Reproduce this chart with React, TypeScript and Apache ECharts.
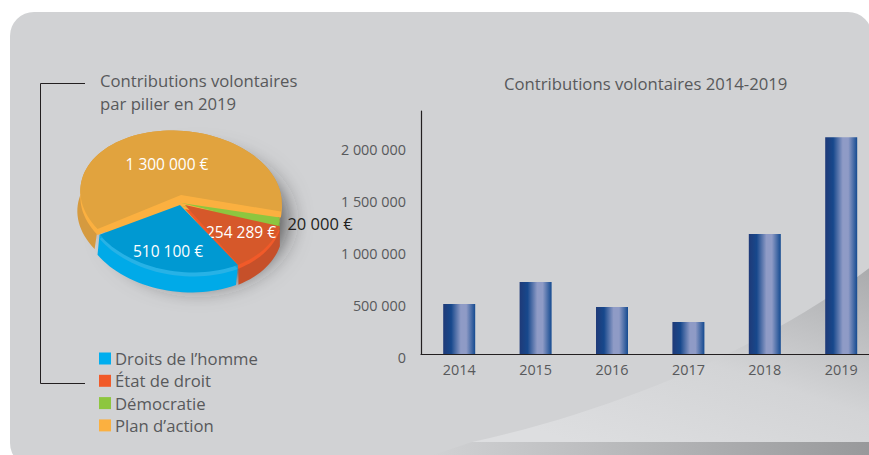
import React, { useEffect, useRef } from "react";
import * as echarts from "echarts";

const years = ["2014", "2015", "2016", "2017", "2018", "2019"];
const yearlyTotals = [481000, 692000, 452000, 308000, 1154000, 2084389];
const yTickLabels = ["0", "500 000", "1 000 000", "1 500 000", "2 000 000"];
const pillars = ["Plan d’action", "Démocratie", "État de droit", "Droits de l’homme"];
const pillarValues = [1300000, 20000, 254289, 510100];
const pillarLabels = ["1 300 000 €", "20 000 €", "254 289 €", "510 100 €"];
const legendOrder = ["Droits de l’homme", "État de droit", "Démocratie", "Plan d’action"];
const legendColors = ["#fbb040", "#8dc63f", "#f15a29", "#00aeef"];

const FONT = "'Open Sans', sans-serif";
const TXT = "#58595b";
const START = 142;
const ROT = (6 * Math.PI) / 180;
const TOTAL = pillarValues.reduce((a, b) => a + b, 0);

const looks = [
  { cx: 181, cy: 197, a: 101, b: 66, ax: 181, ay: 195, wall: "#d59a3f", wdx: -3, wdy: 20, rim: "#fbb040", rimH: 6, face: "#e1a33e", pad: [0, -3], lx: 167, ly: 164, lc: "#ffffff", fs: 15.5 },
  { cx: 183, cy: 202, a: 98, b: 67, ax: 181, ay: 203, wall: "#7fb238", wdx: 0, wdy: 10, rim: "#8dc63f", rimH: 3, face: "#8dc63f", pad: [2, 2.5], lx: 320, ly: 223, lc: "#231f20", fs: 16.5 },
  { cx: 189, cy: 205, a: 94, b: 67, ax: 185, ay: 205, wall: "#c6502a", wdx: 0, wdy: 20, rim: "#f15a29", rimH: 4, face: "#d6582a", pad: [0, 0], lx: 241, ly: 232, lc: "#ffffff", fs: 15.5 },
  { cx: 185, cy: 205, a: 100, b: 67, ax: 180, ay: 205, wall: "#00aae8", wdx: -2, wdy: 20, rim: "#27b2e6", rimH: 4, face: "#0099d2", pad: [0, 3], lx: 168, ly: 251, lc: "#ffffff", fs: 15.5 },
];

echarts.graphic.registerShape(
  "swoosh",
  echarts.graphic.extendPath("M472 442 C 620 410 770 345 872 266 L 872 442 Z", {})
);

function arc(l: any, from: number, to: number, dx = 0, dy = 0) {
  const n = Math.max(2, Math.ceil(Math.abs(to - from) / 3));
  const pts: number[][] = [];
  for (let i = 0; i <= n; i++) {
    const t = ((from + ((to - from) * i) / n) * Math.PI) / 180;
    const px = l.a * Math.cos(t);
    const py = l.b * Math.sin(t);
    pts.push([
      l.cx + px * Math.cos(ROT) - py * Math.sin(ROT) + dx,
      l.cy + px * Math.sin(ROT) + py * Math.cos(ROT) + dy,
    ]);
  }
  return pts;
}

function sliceRender(index: number) {
  return (_params: any, api: any) => {
    const l = looks[index];
    const before = pillarValues.slice(0, index).reduce((a, b) => a + b, 0);
    const from = START + (before / TOTAL) * 360 - l.pad[0];
    const to = START + ((before + api.value(0)) / TOTAL) * 360 + l.pad[1];
    const top = arc(l, from, to);
    const low = arc(l, from, to, l.wdx, l.wdy).reverse();
    const wedge = (dy: number) => [[l.ax, l.ay + dy], ...arc(l, from, to, 0, dy)];
    return {
      type: "group",
      children: [
        { type: "polygon", shape: { points: [...top, ...low] }, style: { fill: l.wall } },
        { type: "polygon", shape: { points: wedge(l.rimH) }, style: { fill: l.rim } },
        { type: "polygon", shape: { points: wedge(0) }, style: { fill: l.face } },
        {
          type: "text",
          z2: 50,
          style: {
            x: l.lx,
            y: l.ly,
            text: pillarLabels[index],
            fill: l.lc,
            fontSize: l.fs,
            fontFamily: FONT,
            textAlign: "center",
            textVerticalAlign: "middle",
          },
        },
      ],
    };
  };
}

export default function App() {
  const ref = useRef<HTMLDivElement>(null);
  useEffect(() => {
    document.body.style.margin = "0";
    const chart = echarts.init(ref.current!, undefined, { renderer: "svg" });
    chart.setOption({
      animation: false,
      backgroundColor: "#ffffff",
      title: [
        {
          text: "Contributions volontaires 2014-2019",
          left: 499,
          top: 70,
          textStyle: { color: TXT, fontSize: 16.7, fontWeight: "normal", fontFamily: FONT },
        },
        {
          text: "Contributions volontaires\npar pilier en 2019",
          left: 95,
          top: 64,
          textStyle: { color: TXT, fontSize: 16.7, fontWeight: "normal", fontFamily: FONT, lineHeight: 23 },
        },
      ],
      legend: {
        data: legendOrder,
        orient: "vertical",
        left: 94,
        top: 345,
        icon: "rect",
        itemWidth: 12,
        itemHeight: 12,
        itemGap: 5.3,
        textStyle: { color: TXT, fontSize: 16.7, fontFamily: FONT, padding: [0, 0, 0, -1] },
      },
      grid: { left: 421, top: 111, width: 458.4, height: 243, outerBoundsMode: "none" },
      xAxis: {
        type: "category",
        data: years,
        axisTick: { show: false },
        axisLine: { lineStyle: { color: "#231f20", width: 1.2 } },
        axisLabel: { color: TXT, fontSize: 14.4, fontFamily: FONT, margin: 8 },
      },
      yAxis: {
        type: "value",
        min: 0,
        max: 2336538,
        interval: 500000,
        axisTick: { show: false },
        splitLine: { show: false },
        axisLine: { show: true, lineStyle: { color: "#231f20", width: 1.2 } },
        axisLabel: {
          color: TXT,
          fontSize: 14.4,
          fontFamily: FONT,
          margin: 15,
          showMaxLabel: false,
          verticalAlign: "top",
          lineHeight: 14,
          padding: [-4, 0, 0, 0],
          formatter: (v: number) => yTickLabels[Math.round(v / 500000)] ?? "",
        },
      },
      series: [
        {
          type: "bar",
          data: yearlyTotals,
          barWidth: 32,
          z: 3,
          itemStyle: {
            color: new echarts.graphic.LinearGradient(0, 0, 1, 0, [
              { offset: 0, color: "#1f3a78" },
              { offset: 0.25, color: "#17488c" },
              { offset: 0.55, color: "#8f9bc6" },
              { offset: 0.72, color: "#8f9bc6" },
              { offset: 1, color: "#144a90" },
            ]),
          },
        },
        ...pillars.map((name, i) => ({
          type: "custom",
          name,
          coordinateSystem: "none",
          z: 4 + i,
          clip: false,
          itemStyle: { color: legendColors[i] },
          data: [[pillarValues[i]]],
          renderItem: sliceRender(i),
        })),
      ],
      graphic: [
        {
          type: "rect",
          z: -5,
          shape: { x: 10, y: 12, width: 862, height: 455, r: 24 },
          style: { fill: "#d1d2d4" },
        },
        {
          type: "swoosh",
          z: -4,
          style: {
            fill: new echarts.graphic.LinearGradient(0.25, 1, 1, 0, [
              { offset: 0, color: "#dddee0" },
              { offset: 0.45, color: "#d3d4d6" },
              { offset: 1, color: "#a9aaac" },
            ]),
          },
        },
        {
          type: "polygon",
          z: -4,
          shape: { points: [[430, 456], [472, 442], [869, 442], [869, 456]] },
          style: {
            fill: new echarts.graphic.LinearGradient(0, 0, 1, 0, [
              { offset: 0, color: "#d1d2d4" },
              { offset: 1, color: "#98999b" },
            ]),
          },
        },
        {
          type: "ellipse",
          z: -3,
          shape: { cx: 190, cy: 212, rx: 88, ry: 64 },
          style: { fill: "#fbb040", shadowBlur: 24, shadowColor: "rgba(40,40,40,0.8)", shadowOffsetX: 8, shadowOffsetY: 8 },
        },
        {
          type: "polyline",
          z: 1,
          shape: { points: [[85, 83.5], [40.5, 83.5], [40.5, 383.5], [85, 383.5]] },
          style: { stroke: "#231f20", lineWidth: 1, fill: "none" },
        },
      ],
    });
    return () => chart.dispose();
  }, []);
  return <div ref={ref} style={{ position: "fixed", left: 0, top: 0, width: 869, height: 455 }} />;
}
